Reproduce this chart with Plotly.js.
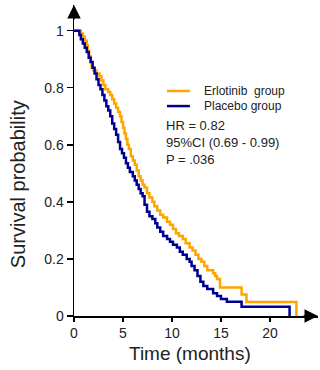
<!DOCTYPE html>
<html>
<head>
<meta charset="utf-8">
<script src="https://cdn.plot.ly/plotly-3.0.1.min.js"></script>
<style>html,body{margin:0;padding:0;background:#fff;}#chart{width:320px;height:370px;}</style>
</head>
<body>
<div id="chart"></div>
<script>
// Kaplan-Meier estimates
var erlotinibTime = [0, 0.5, 0.7, 0.9, 1.1, 1.3, 1.4, 1.55, 1.7, 1.8, 2.0, 2.3, 2.6, 2.8, 3.0, 3.2, 3.5, 3.7, 3.9, 4.1, 4.3, 4.5, 4.7, 4.85, 5.0, 5.15, 5.3, 5.45, 5.6, 5.8, 6.0, 6.2, 6.4, 6.6, 6.8, 7.0, 7.2, 7.45, 7.7, 8.0, 8.2, 8.5, 8.8, 9.1, 9.5, 9.8, 10.1, 10.4, 10.7, 11.1, 11.4, 11.8, 12.1, 12.4, 12.7, 13.0, 13.3, 13.6, 14.2, 14.4, 14.6, 14.9, 17.1, 17.6, 22.7];
var erlotinibSurv = [1.0, 1.0, 0.99, 0.98, 0.965, 0.95, 0.93, 0.91, 0.89, 0.87, 0.86, 0.85, 0.84, 0.825, 0.81, 0.795, 0.785, 0.775, 0.76, 0.745, 0.73, 0.715, 0.70, 0.68, 0.66, 0.64, 0.62, 0.60, 0.585, 0.56, 0.545, 0.53, 0.51, 0.49, 0.475, 0.46, 0.45, 0.43, 0.415, 0.40, 0.385, 0.37, 0.355, 0.345, 0.33, 0.32, 0.305, 0.29, 0.28, 0.27, 0.255, 0.24, 0.23, 0.215, 0.20, 0.19, 0.175, 0.16, 0.15, 0.14, 0.13, 0.10, 0.075, 0.049, 0.0];
var placeboTime = [0, 0.4, 0.55, 0.7, 0.9, 1.1, 1.3, 1.5, 1.7, 1.9, 2.1, 2.3, 2.5, 2.7, 2.9, 3.1, 3.3, 3.5, 3.7, 3.9, 4.1, 4.3, 4.5, 4.7, 4.9, 5.1, 5.3, 5.5, 5.7, 6.0, 6.2, 6.4, 6.6, 6.8, 7.0, 7.2, 7.45, 7.7, 8.0, 8.3, 8.5, 8.8, 9.1, 9.5, 9.8, 10.1, 10.5, 10.8, 11.1, 11.5, 11.8, 12.0, 12.3, 12.6, 12.9, 13.2, 13.6, 14.2, 14.6, 15.0, 15.6, 17.1, 22.0];
var placeboSurv = [1.0, 1.0, 0.985, 0.97, 0.955, 0.94, 0.925, 0.905, 0.89, 0.87, 0.85, 0.83, 0.81, 0.795, 0.775, 0.755, 0.735, 0.72, 0.70, 0.675, 0.655, 0.635, 0.61, 0.585, 0.57, 0.555, 0.535, 0.52, 0.505, 0.49, 0.475, 0.46, 0.445, 0.43, 0.42, 0.39, 0.365, 0.35, 0.34, 0.325, 0.31, 0.295, 0.28, 0.27, 0.26, 0.25, 0.24, 0.225, 0.215, 0.20, 0.19, 0.175, 0.16, 0.14, 0.12, 0.105, 0.095, 0.08, 0.07, 0.06, 0.05, 0.032, 0.0];
var seriesNames = ["Erlotinib  group", "Placebo group"];
var seriesColors = ["#FFA500", "#000090"];
var yTickVals = [0, 0.2, 0.4, 0.6, 0.8, 1];
var yTickText = ["0", "0.2", "0.4", "0.6", "0.8", "1"];
var xTickVals = [0, 5, 10, 15, 20];
var xTickText = ["0", "5", "10", "15", "20"];
var statsLines = ["HR = 0.82", "95%CI (0.69 - 0.99)", "P = .036"];
var xTitle = "Time (months)";
var yTitle = "Survival probability";

var font = "Liberation Sans, Arial, sans-serif";
var traces = [
  {x: erlotinibTime, y: erlotinibSurv, name: seriesNames[0], type: "scatter", mode: "lines",
   line: {shape: "hv", color: seriesColors[0], width: 2.5}},
  {x: placeboTime, y: placeboSurv, name: seriesNames[1], type: "scatter", mode: "lines",
   line: {shape: "hv", color: seriesColors[1], width: 2.5}}
];
var axisCommon = {
  showline: true, linecolor: "#000", linewidth: 1.5, showgrid: false, zeroline: false,
  ticks: "outside", ticklen: 6, tickwidth: 1.5, tickcolor: "#000",
  tickfont: {family: font, size: 14, color: "#222"}
};
// manual legend (compact spacing like the reference)
var legY = [0.7235, 0.675];
var shapes = [], annotations = [];
for (var i = 0; i < seriesNames.length; i++) {
  shapes.push({type: "line", xref: "paper", yref: "paper", x0: 0.381, x1: 0.475, y0: legY[i], y1: legY[i],
               line: {color: seriesColors[i], width: 2.5}});
  annotations.push({xref: "paper", yref: "paper", x: 0.525, y: legY[i], xanchor: "left", yanchor: "middle",
                    showarrow: false, text: seriesNames[i].replace(/  /g, "&nbsp; "),
                    font: {family: font, size: 12, color: "#222"}});
}
annotations.push({xref: "paper", yref: "paper", x: 0.37, y: 0.642, xanchor: "left", yanchor: "top", align: "left",
  showarrow: false, text: statsLines.join("<br>"), font: {family: font, size: 13, color: "#222"}});
annotations.push({xref: "paper", yref: "paper", x: 1, y: 0, ax: -16, ay: 0, showarrow: true, arrowhead: 2,
  arrowsize: 1.8, arrowwidth: 1.5, arrowcolor: "#000", text: ""});
annotations.push({xref: "paper", yref: "paper", x: 0, y: 1, ax: 0, ay: 16, showarrow: true, arrowhead: 2,
  arrowsize: 1.8, arrowwidth: 1.5, arrowcolor: "#000", text: ""});
// axis titles (placed like the reference)
annotations.push({xref: "paper", yref: "paper", x: 0.475, y: -0.121, xanchor: "center", yanchor: "middle",
  showarrow: false, text: xTitle, font: {family: font, size: 19, color: "#222"}});
annotations.push({xref: "paper", yref: "paper", x: -0.2295, y: 0.424, xanchor: "center", yanchor: "middle",
  showarrow: false, textangle: -90, text: yTitle, font: {family: font, size: 20, color: "#222"}});

var layout = {
  width: 320, height: 370,
  margin: {l: 74, r: 2, t: 5, b: 54},
  paper_bgcolor: "#fff", plot_bgcolor: "#fff",
  font: {family: font, color: "#222"},
  xaxis: Object.assign({}, axisCommon, {
    range: [0, 24.9], tickvals: xTickVals, ticktext: xTickText, ticklen: 4
  }),
  yaxis: Object.assign({}, axisCommon, {
    range: [0, 1.09], tickvals: yTickVals, ticktext: yTickText
  }),
  showlegend: false,
  shapes: shapes,
  annotations: annotations
};
Plotly.newPlot("chart", traces, layout, {staticPlot: true, displayModeBar: false});
</script>
</body>
</html>
